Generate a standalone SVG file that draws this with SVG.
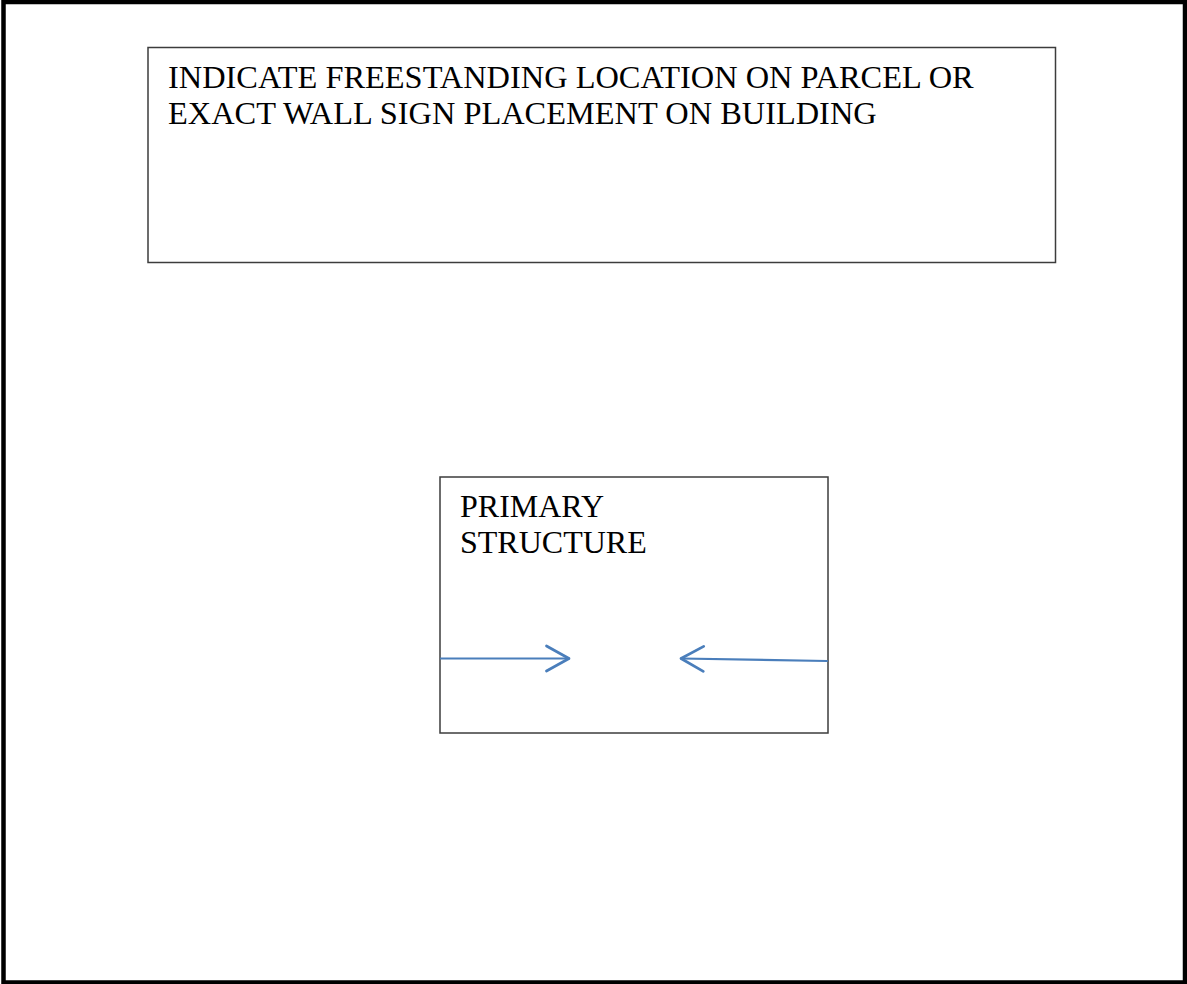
<svg xmlns="http://www.w3.org/2000/svg" width="1187" height="984" viewBox="0 0 1187 984">
<style>
.box{fill:#fff;stroke:#3c3c3c;stroke-width:1.5}
.lbl{font-family:"Liberation Serif","Times New Roman",serif;font-size:32px;fill:#000}
.big{font-size:32.4px}
.arr{fill:none;stroke:#4a7ebb;stroke-width:2.2;stroke-linecap:round;stroke-linejoin:round}
</style>
<defs>
<marker id="head" markerUnits="userSpaceOnUse" markerWidth="30" markerHeight="30" refX="20" refY="12" orient="auto" viewBox="0 0 24 24">
<path d="M2 2 L20 12 L2 22" fill="none" stroke="#4a7ebb" stroke-width="2.2" stroke-linecap="round" stroke-linejoin="round"/>
</marker>
</defs>
<rect x="0" y="0" width="1187" height="984" fill="#fff"/>
<rect id="frame" x="3.5" y="2" width="1181.5" height="980.5" fill="none" stroke="#000" stroke-width="4.5"/>
<g id="note">
<rect class="box" x="148" y="47.5" width="907.5" height="215"/>
<text class="lbl big" x="168" y="88">INDICATE FREESTANDING LOCATION ON PARCEL OR</text>
<text class="lbl big" x="168" y="124">EXACT WALL SIGN PLACEMENT ON BUILDING</text>
</g>
<g id="primary">
<rect class="box" x="440" y="477" width="388" height="256"/>
<text class="lbl" x="460" y="517">PRIMARY</text>
<text class="lbl" x="460" y="553">STRUCTURE</text>
</g>
<g id="connectors">
<line class="arr" x1="441" y1="658.5" x2="569" y2="658.5" marker-end="url(#head)"/>
<line class="arr" x1="827" y1="661" x2="681" y2="658.5" marker-end="url(#head)"/>
</g>
</svg>
